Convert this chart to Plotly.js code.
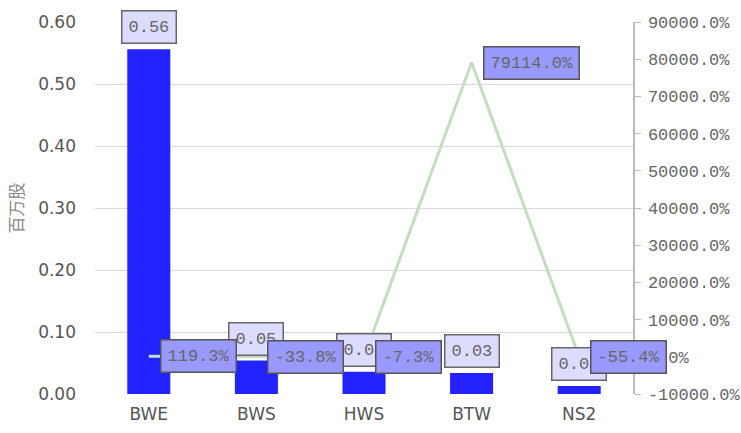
<!DOCTYPE html>
<html>
<head>
<meta charset="utf-8">
<script src="https://cdn.plot.ly/plotly-3.0.1.min.js"></script>
<style>html,body{margin:0;padding:0;background:#fff;}#chart{width:741px;height:433px;}</style>
</head>
<body>
<div id="chart"></div>
<script>
var categories = ["BWE", "BWS", "HWS", "BTW", "NS2"];
var volumes = [0.556, 0.054, 0.036, 0.034, 0.013];
var growthPct = [119.3, -33.8, -7.3, 79114.0, -55.4];
var leftTicks = [0, 0.1, 0.2, 0.3, 0.4, 0.5, 0.6];
var rightTicks = [-10000, 0, 10000, 20000, 30000, 40000, 50000, 60000, 70000, 80000, 90000];
var rightTickText = rightTicks.map(function (v) { return v.toFixed(1) + "%"; });

var monoFont = {family: "Liberation Mono, monospace", size: 17, color: "#666"};

var annotations = [];
categories.forEach(function (c, i) {
  annotations.push({
    x: c, y: volumes[i], xref: "x", yref: "y",
    text: volumes[i].toFixed(2), showarrow: false,
    xanchor: "center", yanchor: "bottom", yshift: 5,
    bgcolor: "#dcdcff", bordercolor: "#666", borderwidth: 1.5, borderpad: 6,
    font: monoFont
  });
});
categories.forEach(function (c, i) {
  annotations.push({
    x: c, y: growthPct[i], xref: "x", yref: "y2",
    text: growthPct[i].toFixed(1) + "%", showarrow: false,
    xanchor: "left", yanchor: "middle", xshift: 11,
    bgcolor: "#9999ff", bordercolor: "#555", borderwidth: 1.5, borderpad: 6,
    font: monoFont
  });
});

var traces = [
  {
    type: "bar", x: categories, y: volumes, yaxis: "y",
    marker: {color: "#2323ff"}, hoverinfo: "none"
  },
  {
    type: "scatter", mode: "lines", x: categories, y: growthPct, yaxis: "y2",
    line: {color: "#c6dcc2", width: 3}, hoverinfo: "none"
  }
];

var layout = {
  width: 741, height: 433,
  margin: {l: 95, r: 108, t: 22, b: 39},
  paper_bgcolor: "#fff", plot_bgcolor: "#fff",
  showlegend: false,
  bargap: 0.6,
  xaxis: {
    range: [-0.5, 4.5], autorange: false,
    showline: false, showgrid: false, zeroline: false, ticks: "",
    tickfont: {family: "DejaVu Sans, Verdana, sans-serif", size: 17, color: "#555"},
    ticklabelstandoff: 8
  },
  yaxis: {
    range: [0, 0.6], tickvals: leftTicks, tickformat: ".2f",
    showgrid: true, gridcolor: "#d9d9d9", gridwidth: 1, zeroline: false,
    showline: false, ticks: "",
    tickfont: {family: "DejaVu Sans, Verdana, sans-serif", size: 17, color: "#555"},
    ticklabelstandoff: 18,
    title: {text: "百万股", standoff: 10,
      font: {family: "Noto Sans CJK SC, sans-serif", size: 17, color: "#888"}}
  },
  yaxis2: {
    overlaying: "y", side: "right",
    range: [-10000, 90000], tickvals: rightTicks, ticktext: rightTickText,
    showgrid: false, zeroline: false,
    showline: true, linecolor: "#bbb", linewidth: 1.5,
    ticks: "outside", ticklen: 6, tickcolor: "#bbb",
    tickfont: monoFont, ticklabelstandoff: 4
  },
  annotations: annotations
};

Plotly.newPlot("chart", traces, layout, {displayModeBar: false, staticPlot: true});
</script>
</body>
</html>
